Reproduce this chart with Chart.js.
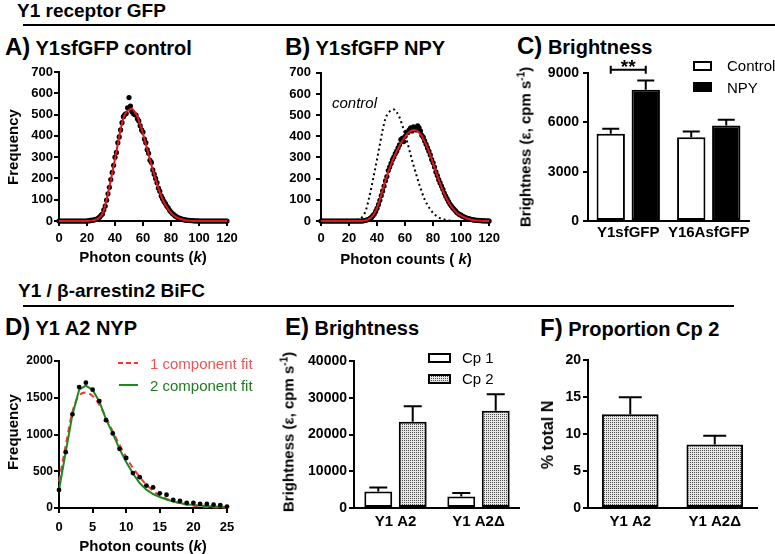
<!DOCTYPE html>
<html>
<head>
<meta charset="utf-8">
<title>Y1 receptor brightness</title>
<script src="https://cdn.jsdelivr.net/npm/chart.js@4.4.1/dist/chart.umd.min.js"></script>
<style>
  html, body { margin: 0; padding: 0; background: #fff; }
  #fig { position: relative; width: 775px; height: 554px; overflow: hidden; background: #fff;
         font-family: "Liberation Sans", Arial, Helvetica, sans-serif; color: #000; }
  #fig canvas { position: absolute; }
  .t { position: absolute; white-space: nowrap; line-height: 1; }
  .hdr { font-size: 19px; font-weight: bold; }
  .rule { position: absolute; height: 2px; background: #000; }
  .pt { position: absolute; white-space: nowrap; font-size: 20px; line-height: 24px; font-weight: bold; }
  .pt span { font-size: 24px; }
  .ax { font-size: 15px; font-weight: bold; transform: translate(-50%, -50%); }
  .ax.v { transform: translate(-50%, -50%) rotate(-90deg); }
  .ax sup { font-size: 10px; line-height: 0; vertical-align: 6px; }
  .lg { font-size: 15px; transform: translateY(-50%); }
  .sw { position: absolute; box-sizing: border-box; border: 2px solid #000; }
</style>
</head>
<body>
<div id="fig">
  <canvas id="cA" width="250" height="210" style="left:0;top:60px"></canvas>
  <canvas id="cB" width="255" height="210" style="left:250px;top:60px"></canvas>
  <canvas id="cC" width="265" height="210" style="left:510px;top:60px"></canvas>
  <canvas id="cD" width="250" height="204" style="left:0;top:350px"></canvas>
  <canvas id="cE" width="270" height="204" style="left:250px;top:350px"></canvas>
  <canvas id="cF" width="265" height="204" style="left:510px;top:350px"></canvas>

  <div class="t hdr" style="left:17px;top:1px">Y1 receptor GFP</div>
  <div class="rule" style="left:23px;top:24px;width:752px"></div>
  <div class="t hdr" style="left:18px;top:281px">Y1 / β-arrestin2 BiFC</div>
  <div class="rule" style="left:23px;top:305px;width:711px"></div>

  <div class="pt" style="left:5px;top:35px"><span>A)</span> Y1sfGFP control</div>
  <div class="pt" style="left:285px;top:35px"><span>B)</span> Y1sfGFP NPY</div>
  <div class="pt" style="left:517px;top:34px"><span>C)</span> Brightness</div>
  <div class="pt" style="left:5px;top:315px"><span>D)</span> Y1 A2 NYP</div>
  <div class="pt" style="left:285px;top:315px"><span>E)</span> Brightness</div>
  <div class="pt" style="left:540px;top:316px"><span>F)</span> Proportion Cp 2</div>

  <div class="t ax v" style="left:12px;top:147px">Frequency</div>
  <div class="t ax" style="left:143px;top:256px">Photon counts (<i>k</i>)</div>
  <div class="t ax" style="left:406px;top:258px">Photon counts ( <i>k</i>)</div>
  <div class="t ax v" style="left:525px;top:147px">Brightness (ε, cpm s<sup>-1</sup>)</div>
  <div class="t ax v" style="left:12px;top:432px">Frequency</div>
  <div class="t ax" style="left:143px;top:545px">Photon counts (<i>k</i>)</div>
  <div class="t ax v" style="left:288px;top:432px">Brightness (ε, cpm s<sup>-1</sup>)</div>
  <div class="t ax v" style="left:548px;top:435px;font-size:16px">% total N</div>

  <div class="t" style="left:332px;top:95px;font-size:15px;font-style:italic">control</div>

  <div class="sw" style="left:693px;top:61px;width:19px;height:10px;background:#fff"></div>
  <div class="t lg" style="left:727px;top:65px">Control</div>
  <div class="sw" style="left:693px;top:82px;width:19px;height:10px;background:#000"></div>
  <div class="t lg" style="left:727px;top:87px">NPY</div>

  <div style="position:absolute;left:118px;top:362px;width:20px;height:2px;background:repeating-linear-gradient(to right,#ff3030 0 5px,transparent 5px 8px)"></div>
  <div class="t lg" style="left:150px;top:363px;color:#ef5550">1 component fit</div>
  <div style="position:absolute;left:119px;top:384px;width:19px;height:2px;background:#1f8a1f"></div>
  <div class="t lg" style="left:150px;top:385px;color:#207a20">2 component fit</div>

  <div class="sw" style="left:428px;top:353px;width:23px;height:10px;background:#fff"></div>
  <div class="t lg" style="left:462px;top:357px">Cp 1</div>
  <div class="sw" id="cp2sw" style="left:428px;top:374px;width:23px;height:10px"></div>
  <div class="t lg" style="left:462px;top:378px">Cp 2</div>
</div>

<script>
const FONT = '"Liberation Sans", Arial, sans-serif';

// A / B photon counting histograms: one dot per k, fits sampled every 2 k
const dotStepK = 1;
const fitStepK = 2;

const aDots = [
  0, 0, 0, 0, 0, 0, 0, 0, 0, 0, 0, 0, 0, 0, 0, 0, 0, 0, 0, 0,
  0, 2, 1, 4, 3, 5, 8, 7, 14, 18,
  27, 33, 52, 70, 98, 128, 158, 195, 228, 262,
  300, 322, 368, 395, 428, 462, 490, 500, 505, 532,
  580, 540, 515, 505, 500, 498, 480, 470, 448, 428,
  418, 385, 368, 335, 318, 285, 275, 240, 220, 200,
  180, 155, 140, 118, 105, 92, 82, 70, 62, 50,
  42, 35, 30, 24, 20, 15, 14, 10, 9, 6,
  5, 4, 3, 3, 2, 2, 1, 1, 0, 1,
  0,
  0, 0, 0, 0, 0, 0, 0, 0, 0, 0, 0, 0, 0, 0, 0, 0, 0, 0, 0, 0
];

const controlFit = [
  0, 0, 0, 0, 0, 0, 0, 0, 0, 0,
  0, 1, 3, 6, 11, 24, 50, 100, 160, 225,
  292, 362, 430, 484, 510, 522, 527, 514, 490, 452,
  410, 362, 312, 263, 219, 175, 136, 101, 76, 55,
  38, 26, 17, 11, 7, 4, 2, 1, 0, 0,
  0, 0, 0, 0, 0, 0, 0, 0, 0, 0,
  0
];

const bDots = [
  0, 0, 0, 0, 0, 0, 0, 0, 0, 0, 0, 0, 0, 0, 0,
  0, 0, 0, 0, 0, 0, 0, 0, 0, 0, 0, 0, 0, 0, 0,
  1, 2, 3, 6, 8, 12, 17, 25, 33, 45,
  60, 78, 98, 120, 142, 165, 190, 210, 238, 255,
  272, 290, 302, 318, 330, 345, 360, 385, 390, 375,
  400, 420, 418, 430, 440, 425, 445, 435, 430, 450,
  440, 425, 405, 395, 378, 362, 345, 330, 312, 290,
  275, 255, 232, 215, 195, 180, 165, 150, 132, 118,
  105, 92, 80, 72, 62, 55, 48, 40, 35, 30,
  28, 22, 20, 16, 14, 11, 10, 8, 6, 5,
  4, 3, 3, 2, 2, 1, 1, 1, 0, 1,
  0
];

const npyFit = [
  0, 0, 0, 0, 0, 0, 0, 0, 0, 0,
  0, 0, 0, 0, 0, 1, 3, 9, 18, 35,
  62, 100, 148, 190, 232, 268, 300, 330, 355, 378,
  398, 414, 425, 430, 428, 418, 400, 375, 345, 310,
  272, 232, 195, 160, 128, 100, 78, 60, 45, 33,
  25, 18, 12, 8, 5, 3, 2, 1, 0, 0,
  0
];

// C) brightness, Y1 receptor GFP
const cGroups = ['Y1sfGFP', 'Y16AsfGFP'];
const cControl = [5300, 5100];
const cControlSem = [310, 345];
const cNpy = [7980, 5810];
const cNpySem = [570, 345];

// D) Y1 A2 NYP histogram
const dK = [0, 1, 2, 3, 4, 5, 6, 7, 8, 9, 10, 11, 12, 13, 14, 15, 16, 17, 18, 19, 20, 21, 22, 23, 24, 25];
const dDots = [245, 760, 1275, 1645, 1705, 1610, 1455, 1195, 1015, 805, 680, 475, 420, 305, 280, 200, 180, 110, 95, 70, 70, 55, 55, 45, 40, 20];
const dFit1 = [360, 850, 1310, 1530, 1570, 1525, 1405, 1230, 1040, 860, 690, 545, 425, 315, 235, 170, 125, 90, 65, 45, 32, 22, 14, 9, 6, 4];
const dFit2 = [245, 760, 1270, 1610, 1665, 1605, 1450, 1205, 1015, 805, 625, 470, 340, 250, 190, 150, 115, 88, 68, 52, 42, 33, 27, 22, 18, 14];

// E) brightness per component
const eGroups = ['Y1 A2', 'Y1 A2Δ'];
const eCp1 = [4500, 3150];
const eCp1Sem = [1080, 900];
const eCp2 = [23450, 26450];
const eCp2Sem = [4250, 4500];

// F) proportion of Cp 2
const fGroups = ['Y1 A2', 'Y1 A2Δ'];
const fCp2 = [12.7, 8.6];
const fCp2Sem = [2.3, 1.2];

const toXY = (ys, step) => ys.map((y, i) => ({ x: i * step, y }));
const pairXY = (xs, ys) => xs.map((x, i) => ({ x, y: ys[i] }));
const widthTo = w => s => { s.width = w; };
const heightTo = h => s => { s.height = h; };

function valueAxis(min, max, step, size, pad, afterFit) {
  return {
    type: 'linear', min, max,
    ticks: {
      stepSize: step, padding: pad, color: '#000', autoSkip: false, maxRotation: 0,
      font: { family: FONT, size, weight: 'bold' },
      callback: v => String(v)
    },
    grid: { drawOnChartArea: false, tickLength: 5, color: '#000', lineWidth: 2 },
    border: { color: '#000', width: 2 },
    afterFit
  };
}

function groupAxis(size, pad, h) {
  return {
    type: 'category',
    ticks: { padding: pad, color: '#000', autoSkip: false, maxRotation: 0, font: { family: FONT, size, weight: 'bold' } },
    grid: { display: false, drawTicks: false },
    border: { color: '#000', width: 2 },
    afterFit: heightTo(h)
  };
}

function baseOptions(padding, scales, extra) {
  return {
    responsive: false,
    maintainAspectRatio: false,
    animation: false,
    layout: { padding },
    plugins: Object.assign({ legend: { display: false }, tooltip: { enabled: false } }, extra || {}),
    scales
  };
}

// upward-only SEM bars, as in the original figure
const errorBars = {
  id: 'errorBars',
  afterDatasetsDraw(chart, args, opts) {
    const ctx = chart.ctx;
    const yScale = chart.scales.y;
    const half = (opts.cap || 16) / 2;
    chart.data.datasets.forEach((ds, di) => {
      if (!ds.errors) return;
      chart.getDatasetMeta(di).data.forEach((bar, i) => {
        const top = yScale.getPixelForValue(ds.data[i] + ds.errors[i]);
        ctx.save();
        ctx.strokeStyle = '#000';
        ctx.lineWidth = 2;
        ctx.beginPath();
        ctx.moveTo(bar.x, bar.y);
        ctx.lineTo(bar.x, top);
        ctx.moveTo(bar.x - half, top);
        ctx.lineTo(bar.x + half, top);
        ctx.stroke();
        ctx.restore();
      });
    });
  }
};

const sigBracket = {
  id: 'sigBracket',
  afterDraw(chart, args, opts) {
    const a = chart.getDatasetMeta(0).data[0].x;
    const b = chart.getDatasetMeta(1).data[0].x;
    const y = chart.scales.y.getPixelForValue(opts.value);
    const ctx = chart.ctx;
    ctx.save();
    ctx.strokeStyle = '#000';
    ctx.lineWidth = 2;
    ctx.beginPath();
    ctx.moveTo(a, y); ctx.lineTo(b, y);
    ctx.moveTo(a, y - 4); ctx.lineTo(a, y + 4);
    ctx.moveTo(b, y - 4); ctx.lineTo(b, y + 4);
    ctx.stroke();
    ctx.fillStyle = '#000';
    ctx.font = 'bold 19px ' + FONT;
    ctx.textAlign = 'center';
    ctx.textBaseline = 'alphabetic';
    ctx.fillText(opts.text, (a + b) / 2, y + 3);
    ctx.restore();
  }
};

function stipple() {
  const c = document.createElement('canvas');
  c.width = 2; c.height = 2;
  const g = c.getContext('2d');
  g.fillStyle = '#e6e6e6';
  g.fillRect(0, 0, 2, 2);
  g.fillStyle = '#505050';
  g.fillRect(0, 0, 1, 1);
  return g.createPattern(c, 'repeat');
}
const dotFill = stipple();
document.getElementById('cp2sw').style.background = 'repeating-conic-gradient(#505050 0 25%, #e6e6e6 0 100%) 0 0 / 2px 2px';

const dotStyle = { showLine: false, pointRadius: 2.6, pointBackgroundColor: '#000', backgroundColor: '#000', pointBorderWidth: 0, clip: 4 };

// A
new Chart(document.getElementById('cA'), {
  type: 'line',
  data: {
    datasets: [
      { data: toXY(controlFit, fitStepK), borderColor: '#e3141b', borderWidth: 2, pointRadius: 0, cubicInterpolationMode: 'monotone', clip: 4 },
      Object.assign({ data: toXY(aDots, dotStepK) }, dotStyle)
    ]
  },
  options: baseOptions({ top: 12, right: 23, left: 0, bottom: 0 }, {
    x: valueAxis(0, 120, 20, 13, 5, heightTo(49)),
    y: valueAxis(0, 700, 100, 13, 1, widthTo(59))
  })
});

// B
new Chart(document.getElementById('cB'), {
  type: 'line',
  data: {
    datasets: [
      { data: toXY(npyFit, fitStepK), borderColor: '#e3141b', borderWidth: 2, pointRadius: 0, cubicInterpolationMode: 'monotone', clip: 4 },
      Object.assign({ data: toXY(bDots, dotStepK) }, dotStyle),
      { data: toXY(controlFit, fitStepK).filter(p => p.y > 0), borderColor: '#000', borderWidth: 2, borderDash: [2, 3], pointRadius: 0, cubicInterpolationMode: 'monotone', clip: 4 }
    ]
  },
  options: baseOptions({ top: 12, right: 15, left: 0, bottom: 0 }, {
    x: valueAxis(0, 120, 20, 13, 5, heightTo(49)),
    y: valueAxis(0, 700, 100, 13, 5, widthTo(71))
  })
});

// C
new Chart(document.getElementById('cC'), {
  type: 'bar',
  data: {
    labels: cGroups,
    datasets: [
      { data: cControl, errors: cControlSem, backgroundColor: '#fff', borderColor: '#000', borderWidth: 2, borderSkipped: false, categoryPercentage: 0.87, barPercentage: 0.81 },
      { data: cNpy, errors: cNpySem, backgroundColor: '#000', borderColor: '#000', borderWidth: 2, borderSkipped: false, categoryPercentage: 0.87, barPercentage: 0.81 }
    ]
  },
  options: baseOptions({ top: 13, right: 26, left: 0, bottom: 0 }, {
    x: groupAxis(15, 3, 49),
    y: valueAxis(0, 9000, 3000, 14, 4, widthTo(78))
  }, { errorBars: { cap: 17 }, sigBracket: { value: 9200, text: '**' } }),
  plugins: [errorBars, sigBracket]
});

// D
new Chart(document.getElementById('cD'), {
  type: 'line',
  data: {
    datasets: [
      Object.assign({ data: pairXY(dK, dDots) }, dotStyle, { pointRadius: 2.4 }),
      { data: pairXY(dK, dFit2), borderColor: '#1f8a1f', borderWidth: 2, pointRadius: 0, tension: 0, clip: 4 },
      { data: pairXY(dK, dFit1), borderColor: '#ff3030', borderWidth: 2, borderDash: [6, 4], pointRadius: 0, cubicInterpolationMode: 'monotone', clip: 4 }
    ]
  },
  options: baseOptions({ top: 11, right: 23, left: 0, bottom: 0 }, {
    x: valueAxis(0, 25, 5, 13, 7, heightTo(46)),
    y: valueAxis(0, 2000, 500, 12, 1, widthTo(59))
  })
});

// E
new Chart(document.getElementById('cE'), {
  type: 'bar',
  data: {
    labels: eGroups,
    datasets: [
      { data: eCp1, errors: eCp1Sem, backgroundColor: '#fff', borderColor: '#000', borderWidth: 2, borderSkipped: false, categoryPercentage: 0.83, barPercentage: 0.81 },
      { data: eCp2, errors: eCp2Sem, backgroundColor: dotFill, borderColor: '#000', borderWidth: 2, borderSkipped: false, categoryPercentage: 0.83, barPercentage: 0.81 }
    ]
  },
  options: baseOptions({ top: 11, right: 0, left: 0, bottom: 0 }, {
    x: groupAxis(15, 5, 46),
    y: valueAxis(0, 40000, 10000, 14, 2, widthTo(104))
  }, { errorBars: { cap: 18 } }),
  plugins: [errorBars]
});

// F
new Chart(document.getElementById('cF'), {
  type: 'bar',
  data: {
    labels: fGroups,
    datasets: [
      { data: fCp2, errors: fCp2Sem, backgroundColor: dotFill, borderColor: '#000', borderWidth: 2, borderSkipped: false, categoryPercentage: 1, barPercentage: 0.67 }
    ]
  },
  options: baseOptions({ top: 10, right: 18, left: 0, bottom: 0 }, {
    x: groupAxis(15, 5, 46),
    y: valueAxis(0, 20, 5, 14, 2, widthTo(78))
  }, { errorBars: { cap: 23 } }),
  plugins: [errorBars]
});
</script>
</body>
</html>
